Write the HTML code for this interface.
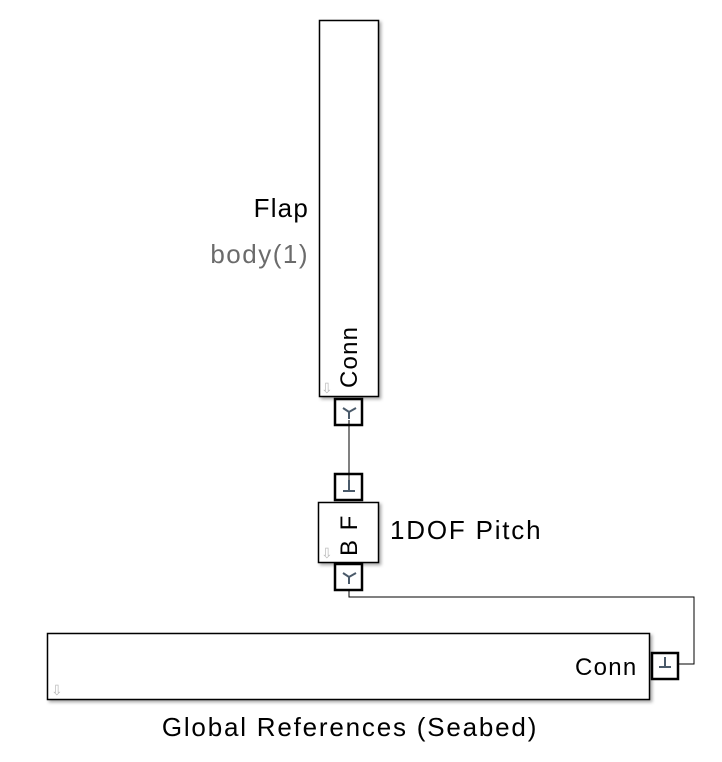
<!DOCTYPE html>
<html><head><style>body{margin:0;background:#fff}svg{display:block}</style></head>
<body>
<svg width="722" height="762" viewBox="0 0 722 762" xmlns="http://www.w3.org/2000/svg" font-family="Liberation Sans, sans-serif">
<defs><filter id="sh" x="-10%" y="-10%" width="130%" height="130%"><feDropShadow dx="2" dy="2" stdDeviation="1.5" flood-color="#000" flood-opacity="0.35"/></filter></defs>
<path d="M349 420 V490" stroke="#000" stroke-width="1" fill="none"/>
<path d="M349 580 V597 H694 V664 H672" stroke="#000" stroke-width="1" fill="none"/>
<rect x="319.5" y="20.5" width="59" height="376" fill="#fff" stroke="#000" stroke-width="1.5" filter="url(#sh)"/>
<text x="309" y="217" font-size="26" letter-spacing="1.2" text-anchor="end" fill="#000">Flap</text>
<text x="309" y="263" font-size="26" letter-spacing="1.5" text-anchor="end" fill="#6b6b6b">body(1)</text>
<text transform="translate(357,388) rotate(-90)" font-size="24" letter-spacing="1.2" fill="#000">Conn</text>
<text x="321" y="393" font-size="14" fill="#bbb">⇩</text>
<rect x="335" y="399" width="27" height="26" fill="none" stroke="#000" stroke-width="2.5"/>
<path d="M343 408 L349 412 L356 408 M349 412 V419" stroke="#4a5a6a" stroke-width="2" fill="none"/>
<rect x="335" y="474" width="27" height="26" fill="none" stroke="#000" stroke-width="2.5"/>
<path d="M349 480 V491 M343 491 H355" stroke="#4a5a6a" stroke-width="2" fill="none"/>
<rect x="318.5" y="502.5" width="60" height="60" fill="#fff" stroke="#000" stroke-width="1.5" filter="url(#sh)"/>
<text transform="translate(357,556) rotate(-90)" font-size="24" letter-spacing="1.5" fill="#000">B F</text>
<text x="321" y="558" font-size="14" fill="#bbb">⇩</text>
<rect x="335" y="564" width="27" height="26" fill="#fff" stroke="#000" stroke-width="2.5"/>
<path d="M343 573 L349 577 L356 573 M349 577 V584" stroke="#4a5a6a" stroke-width="2" fill="none"/>
<text x="390" y="539" font-size="26" letter-spacing="1.8" fill="#000">1DOF Pitch</text>
<rect x="47.5" y="633.5" width="602" height="66" fill="#fff" stroke="#000" stroke-width="1.5" filter="url(#sh)"/>
<text x="575" y="675" font-size="24" letter-spacing="1.3" fill="#000">Conn</text>
<text x="51" y="695" font-size="14" fill="#bbb">⇩</text>
<rect x="652" y="653" width="26" height="26" fill="#fff" stroke="#000" stroke-width="2.5"/>
<path d="M665 657 V667 M659 667 H671" stroke="#4a5a6a" stroke-width="2" fill="none"/>
<text x="350" y="736" font-size="26" letter-spacing="1.8" text-anchor="middle" fill="#000">Global References (Seabed)</text>
</svg>
</body></html>
